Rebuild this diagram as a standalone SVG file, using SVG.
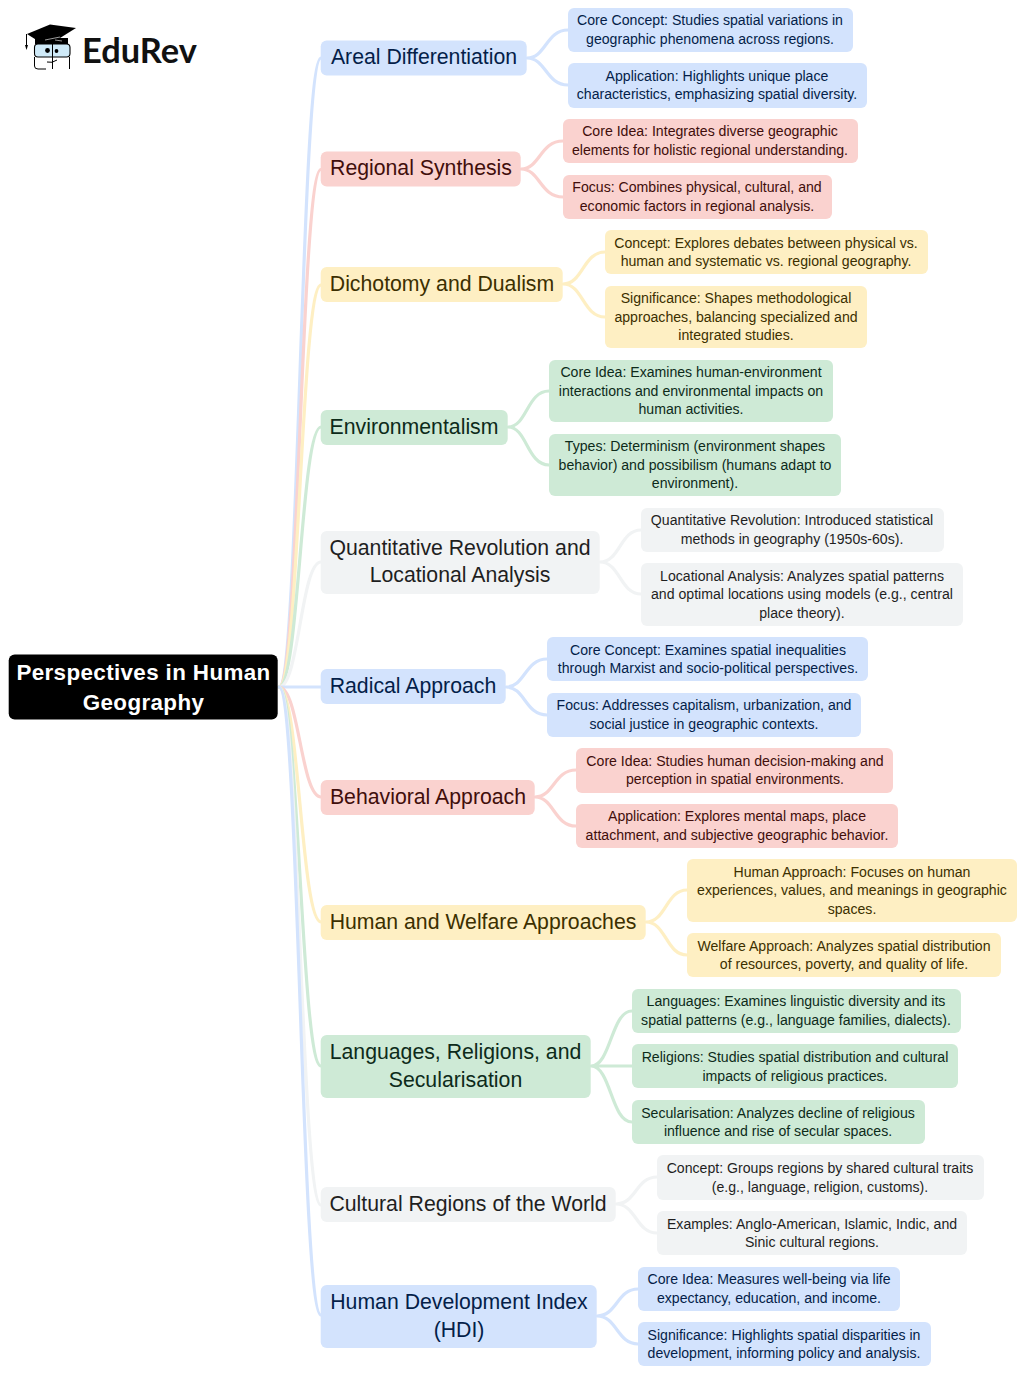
<svg xmlns="http://www.w3.org/2000/svg" width="1024" height="1374" viewBox="0 0 1024 1374">
<style>
text{font-family:"Liberation Sans",Arial,sans-serif;text-anchor:middle}
.l1{font-size:21.25px}
.l2{font-size:14.12px}
.root{font-size:22.4px;font-weight:700;letter-spacing:.37px;fill:#fff}
.c path{fill:none;stroke-width:3.2;stroke-linecap:round}
.bs{stroke:#d3e3fd}.rs{stroke:#fad2cf}.ys{stroke:#feefc3}.gs{stroke:#ceead6}.ks{stroke:#f1f3f4}
.b rect{fill:#d3e3fd}.b text{fill:#041e49}
.r rect{fill:#fad2cf}.r text{fill:#410e0b}
.y rect{fill:#feefc3}.y text{fill:#3c2f00}
.g rect{fill:#ceead6}.g text{fill:#0d2b1a}
.k rect{fill:#f1f3f4}.k text{fill:#1f1f1f}
</style>
<g id="logo">
<path d="M27 34L50 24.500L76 28L60 38L53 42L38 41Z" fill="#000"/>
<rect x="35" y="38" width="33" height="6" fill="#000"/>
<path d="M45 40L60 37M55 40L62 41" stroke="#ddd" stroke-width="0.700" fill="none"/>
<path d="M26.500 34V46" stroke="#000" stroke-width="1" fill="none"/>
<path d="M25 45H28L26.500 50Z" fill="#000"/>
<rect x="34.500" y="44" width="35.500" height="13" rx="3.500" fill="#cfeaf8" stroke="#000" stroke-width="1.100"/>
<path d="M52.500 43V69M34.500 57V66Q34.500 69 38 69H46M69.500 57V69M47 62Q52 63.500 57 60" fill="none" stroke="#000" stroke-width="1"/>
<circle cx="47.500" cy="50.500" r="2.400" fill="#000"/><circle cx="56.500" cy="51" r="1.900" fill="#000"/>
<text x="139.500" y="62.500" style="font-family:Lato,sans-serif;font-weight:700;font-size:34.4px;fill:#111">EduRev</text>
</g>
<g id="connectors" class="c">
<path class="bs" d="M279 687C299 687 301 58 321 58"/>
<path class="rs" d="M279 687C299 687 301 169.500 321 169.500"/>
<path class="ys" d="M279 687C299 687 301 285 321 285"/>
<path class="gs" d="M279 687C299 687 301 427 321 427"/>
<path class="ks" d="M279 687C299 687 301 562 321 562"/>
<path class="bs" d="M279 687H321"/>
<path class="rs" d="M279 687C299 687 301 797 321 797"/>
<path class="ys" d="M279 687C299 687 301 922 321 922"/>
<path class="gs" d="M279 687C299 687 301 1066 321 1066"/>
<path class="ks" d="M279 687C299 687 301 1205 321 1205"/>
<path class="bs" d="M279 687C299 687 301 1315 321 1315"/>
<path class="bs" d="M527 58C546 58 546 30 568 30M527 58C546 58 546 85 568 85"/>
<path class="rs" d="M521 169C540 169 540 141 563 141M521 169C540 169 540 197 563 197"/>
<path class="ys" d="M563 284C583 284 583 252 605 252M563 284C583 284 583 317 605 317"/>
<path class="gs" d="M508 427C527 427 527 391 549 391M508 427C527 427 527 465 549 465"/>
<path class="ks" d="M600 562C620 562 620 530 641 530M600 562C620 562 620 594 641 594"/>
<path class="bs" d="M506 687C525 687 525 659 547 659M506 687C525 687 525 715 547 715"/>
<path class="rs" d="M535 797C554 797 554 770 576 770M535 797C554 797 554 826 576 826"/>
<path class="ys" d="M646 922C666 922 666 890 687 890M646 922C666 922 666 955 687 955"/>
<path class="gs" d="M591 1066C611 1066 611 1011 632 1011M591 1066H632M591 1066C611 1066 611 1122 632 1122"/>
<path class="ks" d="M616 1204C636 1204 636 1177 657 1177M616 1204C636 1204 636 1233 657 1233"/>
<path class="bs" d="M597 1316C617 1316 617 1289 638 1289M597 1316C617 1316 617 1344 638 1344"/>
</g>
<g id="root"><rect x="8.700" y="654.500" width="269" height="65" rx="6" fill="#000"/><text class="root" x="143.500" y="680">Perspectives in Human</text><text class="root" x="143.500" y="709.500">Geography</text></g>
<g id="n1" class="b"><rect x="320.700" y="40.500" width="206" height="35" rx="6"/><text class="l1" x="424" y="64.300">Areal Differentiation</text></g>
<g id="n1a" class="b"><rect x="568" y="8" width="285" height="44" rx="6"/><text class="l2" x="710" y="25">Core Concept: Studies spatial variations in</text><text class="l2" x="710" y="44">geographic phenomena across regions.</text></g>
<g id="n1b" class="b"><rect x="568" y="63" width="299" height="45" rx="6"/><text class="l2" x="717" y="81">Application: Highlights unique place</text><text class="l2" x="717" y="99">characteristics, emphasizing spatial diversity.</text></g>
<g id="n2" class="r"><rect x="320.700" y="151.500" width="200" height="35" rx="6"/><text class="l1" x="421" y="175.300">Regional Synthesis</text></g>
<g id="n2a" class="r"><rect x="563" y="119" width="295" height="44" rx="6"/><text class="l2" x="710" y="136">Core Idea: Integrates diverse geographic</text><text class="l2" x="710" y="155">elements for holistic regional understanding.</text></g>
<g id="n2b" class="r"><rect x="563" y="175" width="269" height="44" rx="6"/><text class="l2" x="697" y="192">Focus: Combines physical, cultural, and</text><text class="l2" x="697" y="211">economic factors in regional analysis.</text></g>
<g id="n3" class="y"><rect x="320.700" y="267" width="242" height="35" rx="6"/><text class="l1" x="442" y="291.300">Dichotomy and Dualism</text></g>
<g id="n3a" class="y"><rect x="605" y="230" width="323" height="44" rx="6"/><text class="l2" x="766" y="248">Concept: Explores debates between physical vs.</text><text class="l2" x="766" y="266">human and systematic vs. regional geography.</text></g>
<g id="n3b" class="y"><rect x="605" y="286" width="262" height="62" rx="6"/><text class="l2" x="736" y="303">Significance: Shapes methodological</text><text class="l2" x="736" y="322">approaches, balancing specialized and</text><text class="l2" x="736" y="340">integrated studies.</text></g>
<g id="n4" class="g"><rect x="320.700" y="410" width="187" height="35" rx="6"/><text class="l1" x="414" y="434.300">Environmentalism</text></g>
<g id="n4a" class="g"><rect x="549" y="360" width="284" height="62" rx="6"/><text class="l2" x="691" y="377">Core Idea: Examines human-environment</text><text class="l2" x="691" y="396">interactions and environmental impacts on</text><text class="l2" x="691" y="414">human activities.</text></g>
<g id="n4b" class="g"><rect x="549" y="434" width="292" height="62" rx="6"/><text class="l2" x="695" y="451">Types: Determinism (environment shapes</text><text class="l2" x="695" y="470">behavior) and possibilism (humans adapt to</text><text class="l2" x="695" y="488">environment).</text></g>
<g id="n5" class="k"><rect x="320.700" y="531" width="279" height="63" rx="6"/><text class="l1" x="460" y="555">Quantitative Revolution and</text><text class="l1" x="460" y="582.300">Locational Analysis</text></g>
<g id="n5a" class="k"><rect x="641" y="508" width="303" height="44" rx="6"/><text class="l2" x="792" y="525">Quantitative Revolution: Introduced statistical</text><text class="l2" x="792" y="544">methods in geography (1950s-60s).</text></g>
<g id="n5b" class="k"><rect x="641" y="563" width="322" height="63" rx="6"/><text class="l2" x="802" y="581">Locational Analysis: Analyzes spatial patterns</text><text class="l2" x="802" y="599">and optimal locations using models (e.g., central</text><text class="l2" x="802" y="618">place theory).</text></g>
<g id="n6" class="b"><rect x="320.700" y="669" width="185" height="35" rx="6"/><text class="l1" x="413" y="693.300">Radical Approach</text></g>
<g id="n6a" class="b"><rect x="547" y="637" width="321" height="44" rx="6"/><text class="l2" x="708" y="655">Core Concept: Examines spatial inequalities</text><text class="l2" x="708" y="673">through Marxist and socio-political perspectives.</text></g>
<g id="n6b" class="b"><rect x="547" y="693" width="314" height="44" rx="6"/><text class="l2" x="704" y="710">Focus: Addresses capitalism, urbanization, and</text><text class="l2" x="704" y="729">social justice in geographic contexts.</text></g>
<g id="n7" class="r"><rect x="320.700" y="780" width="214" height="35" rx="6"/><text class="l1" x="428" y="804.300">Behavioral Approach</text></g>
<g id="n7a" class="r"><rect x="576" y="748" width="317" height="45" rx="6"/><text class="l2" x="735" y="766">Core Idea: Studies human decision-making and</text><text class="l2" x="735" y="784">perception in spatial environments.</text></g>
<g id="n7b" class="r"><rect x="576" y="804" width="322" height="44" rx="6"/><text class="l2" x="737" y="821">Application: Explores mental maps, place</text><text class="l2" x="737" y="840">attachment, and subjective geographic behavior.</text></g>
<g id="n8" class="y"><rect x="320.700" y="905" width="325" height="35" rx="6"/><text class="l1" x="483" y="929.300">Human and Welfare Approaches</text></g>
<g id="n8a" class="y"><rect x="687" y="859" width="330" height="63" rx="6"/><text class="l2" x="852" y="877">Human Approach: Focuses on human</text><text class="l2" x="852" y="895">experiences, values, and meanings in geographic</text><text class="l2" x="852" y="914">spaces.</text></g>
<g id="n8b" class="y"><rect x="687" y="933" width="314" height="44" rx="6"/><text class="l2" x="844" y="951">Welfare Approach: Analyzes spatial distribution</text><text class="l2" x="844" y="969">of resources, poverty, and quality of life.</text></g>
<g id="n9" class="g"><rect x="320.700" y="1035" width="270" height="63" rx="6"/><text class="l1" x="455.500" y="1059.300">Languages, Religions, and</text><text class="l1" x="455.500" y="1087">Secularisation</text></g>
<g id="n9a" class="g"><rect x="632" y="989" width="329" height="44" rx="6"/><text class="l2" x="796" y="1006">Languages: Examines linguistic diversity and its</text><text class="l2" x="796" y="1025">spatial patterns (e.g., language families, dialects).</text></g>
<g id="n9b" class="g"><rect x="632" y="1044" width="326" height="44" rx="6"/><text class="l2" x="795" y="1062">Religions: Studies spatial distribution and cultural</text><text class="l2" x="795" y="1081">impacts of religious practices.</text></g>
<g id="n9c" class="g"><rect x="632" y="1100" width="293" height="44" rx="6"/><text class="l2" x="778" y="1118">Secularisation: Analyzes decline of religious</text><text class="l2" x="778" y="1136">influence and rise of secular spaces.</text></g>
<g id="n10" class="k"><rect x="320.700" y="1187" width="295" height="35" rx="6"/><text class="l1" x="468" y="1211.300">Cultural Regions of the World</text></g>
<g id="n10a" class="k"><rect x="657" y="1155" width="327" height="45" rx="6"/><text class="l2" x="820" y="1173">Concept: Groups regions by shared cultural traits</text><text class="l2" x="820" y="1192">(e.g., language, religion, customs).</text></g>
<g id="n10b" class="k"><rect x="657" y="1211" width="310" height="44" rx="6"/><text class="l2" x="812" y="1229">Examples: Anglo-American, Islamic, Indic, and</text><text class="l2" x="812" y="1247">Sinic cultural regions.</text></g>
<g id="n11" class="b"><rect x="320.700" y="1285" width="276" height="63" rx="6"/><text class="l1" x="459" y="1309.300">Human Development Index</text><text class="l1" x="459" y="1337">(HDI)</text></g>
<g id="n11a" class="b"><rect x="638" y="1267" width="262" height="44" rx="6"/><text class="l2" x="769" y="1284">Core Idea: Measures well-being via life</text><text class="l2" x="769" y="1303">expectancy, education, and income.</text></g>
<g id="n11b" class="b"><rect x="638" y="1322" width="293" height="44" rx="6"/><text class="l2" x="784" y="1340">Significance: Highlights spatial disparities in</text><text class="l2" x="784" y="1358">development, informing policy and analysis.</text></g>
</svg>
